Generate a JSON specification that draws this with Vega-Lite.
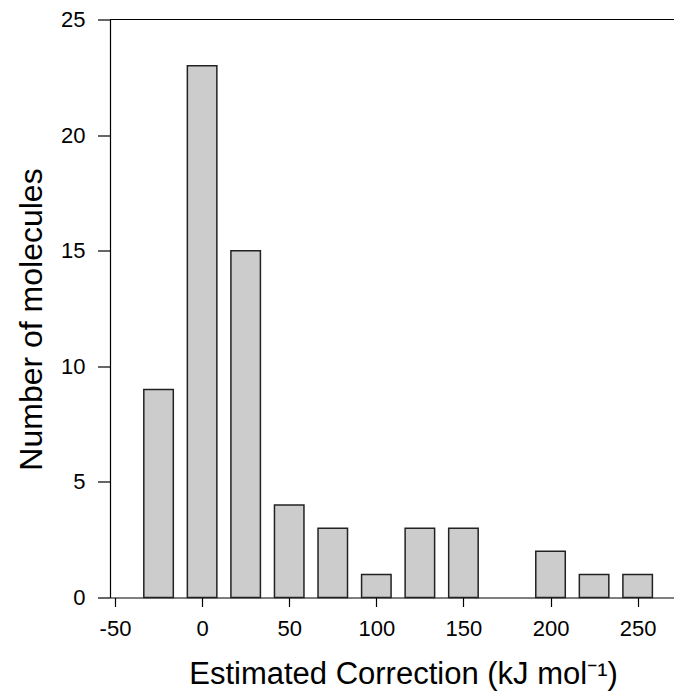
{
  "$schema": "https://vega.github.io/schema/vega-lite/v6.json",
  "width": 564,
  "height": 578,
  "autosize": "none",
  "padding": {"left": 110, "top": 19.5, "right": 0, "bottom": 97.5},
  "background": "white",
  "config": {
    "view": {"stroke": null},
    "font": "Liberation Sans",
    "axis": {
      "domainColor": "black",
      "tickColor": "black",
      "labelColor": "black",
      "titleColor": "black",
      "grid": false,
      "labelFont": "Liberation Sans",
      "titleFont": "Liberation Sans",
      "labelFontSize": 22,
      "titleFontWeight": "normal",
      "domainWidth": 1.2,
      "tickWidth": 1.2
    }
  },
  "data": {
    "values": [
      {"center": -25, "count": 9},
      {"center": 0, "count": 23},
      {"center": 25, "count": 15},
      {"center": 50, "count": 4},
      {"center": 75, "count": 3},
      {"center": 100, "count": 1},
      {"center": 125, "count": 3},
      {"center": 150, "count": 3},
      {"center": 200, "count": 2},
      {"center": 225, "count": 1},
      {"center": 250, "count": 1}
    ]
  },
  "layer": [
    {
      "mark": {"type": "bar", "width": 29.5, "fill": "#cccccc", "stroke": "#222222", "strokeWidth": 1.5},
      "encoding": {
        "x": {
          "field": "center",
          "type": "quantitative",
          "scale": {"domain": [-50, 268], "nice": false, "zero": false},
          "axis": {
            "values": [-50, 0, 50, 100, 150, 200, 250],
            "labelExpr": "replace(datum.label, '−', '-')",
            "tickSize": 9,
            "labelPadding": 12,
            "title": "Estimated Correction (kJ mol⁻¹)",
            "titleFontSize": 31,
            "titleX": 293,
            "titleY": 85.5,
            "titleBaseline": "alphabetic",
            "titleAlign": "center",
            "labelFlush": false,
            "labelOverlap": false
          }
        },
        "y": {
          "field": "count",
          "type": "quantitative",
          "scale": {"domain": [0, 25], "nice": false},
          "axis": {
            "values": [0, 5, 10, 15, 20, 25],
            "tickSize": 12.5,
            "labelPadding": 12.5,
            "title": "Number of molecules",
            "titleFontSize": 32,
            "titleX": -68.5,
            "titleY": 299.5,
            "titleAngle": -90,
            "titleBaseline": "alphabetic",
            "titleAlign": "center",
            "labelFlush": false,
            "labelOverlap": false
          }
        }
      }
    },
    {
      "mark": {"type": "rule", "color": "black", "strokeWidth": 1.2},
      "encoding": {"y": {"datum": 25}}
    }
  ]
}
